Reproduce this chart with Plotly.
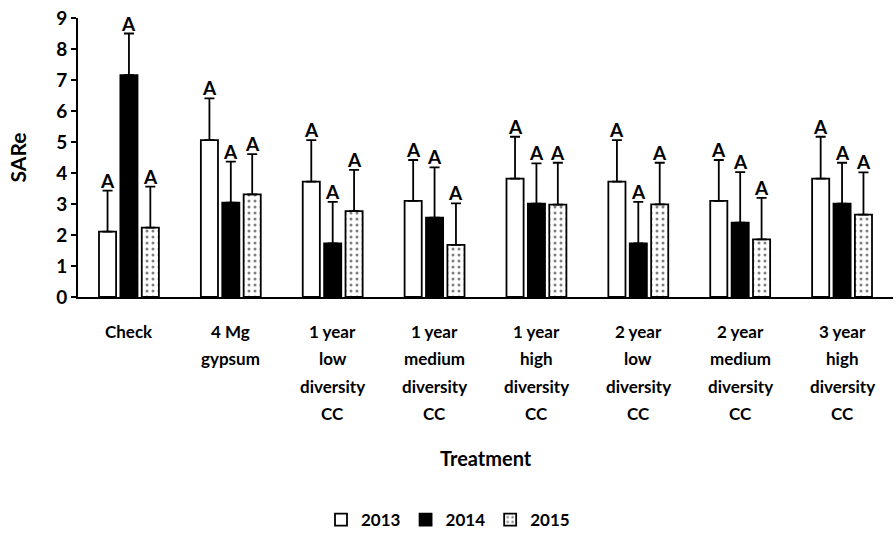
import plotly.graph_objects as go

# Treatment categories (multi-line labels)
categories = ["Check", "4 Mg<br>gypsum", "1 year<br>low<br>diversity<br>CC",
              "1 year<br>medium<br>diversity<br>CC", "1 year<br>high<br>diversity<br>CC",
              "2 year<br>low<br>diversity<br>CC", "2 year<br>medium<br>diversity<br>CC",
              "3 year<br>high<br>diversity<br>CC"]
cat_keys = ["c%d" % i for i in range(len(categories))]

years = ["2013", "2014", "2015"]

# SARe means by year
sare_2013 = [2.11, 5.06, 3.72, 3.10, 3.82, 3.72, 3.10, 3.82]
sare_2014 = [7.16, 3.04, 1.73, 2.56, 3.01, 1.73, 2.40, 3.01]
sare_2015 = [2.24, 3.31, 2.77, 1.68, 2.98, 2.99, 1.86, 2.66]

# Upper error (standard error) by year
err_2013 = [1.32, 1.35, 1.34, 1.32, 1.35, 1.34, 1.32, 1.35]
err_2014 = [1.34, 1.33, 1.34, 1.62, 1.30, 1.34, 1.63, 1.32]
err_2015 = [1.32, 1.30, 1.33, 1.34, 1.35, 1.34, 1.34, 1.36]

# Mean separation letters
letters_2013 = ["A"] * 8
letters_2014 = ["A"] * 8
letters_2015 = ["A"] * 8

FONT = "Lato"
series = [
    (years[0], sare_2013, err_2013, letters_2013, dict(color="white", line=dict(color="black", width=1.8))),
    (years[1], sare_2014, err_2014, letters_2014, dict(color="black", line=dict(color="black", width=1.8))),
    (years[2], sare_2015, err_2015, letters_2015,
     dict(color="white", line=dict(color="black", width=1.8),
          pattern=dict(shape=".", fgcolor="black", bgcolor="white", size=6, solidity=0.2))),
]

fig = go.Figure()
for name, vals, errs, _, marker in series:
    fig.add_trace(go.Bar(
        name=name, x=cat_keys, y=vals, marker=marker,
        error_y=dict(type="data", array=errs, arrayminus=[0] * len(errs), symmetric=False,
                     color="black", thickness=1.8, width=5),
    ))

# Letters above the error bars, offset to each bar slot in the group
n = len(series)
slot = (1 - 0.37) / n
for k, (name, vals, errs, letters, _) in enumerate(series):
    for i, (v, e, t) in enumerate(zip(vals, errs, letters)):
        fig.add_annotation(x=i + (k - (n - 1) / 2) * slot, y=v + e, xref="x", yref="y",
                           text="<b>%s</b>" % t, showarrow=False, yanchor="bottom", yshift=-3,
                           font=dict(family=FONT, size=19, color="black"))

# Category labels, one line at a time for the wider line spacing
for i, lab in enumerate(categories):
    for j, line in enumerate(lab.split("<br>")):
        fig.add_annotation(x=i, y=0, xref="x", yref="y", text="<b>%s</b>" % line,
                           showarrow=False, yanchor="middle", yshift=-34 - j * 27.6,
                           font=dict(family=FONT, size=17, color="black"))

fig.add_annotation(x=0.5, y=-(458 - 297) / 279, xref="paper", yref="paper", text="<b>Treatment</b>",
                   showarrow=False, yanchor="middle", font=dict(family=FONT, size=20, color="black"))

fig.update_layout(
    width=896, height=538,
    margin=dict(l=78, r=3, t=18, b=241),
    paper_bgcolor="white", plot_bgcolor="white",
    barmode="group", bargap=0.37, bargroupgap=0.2,
    font=dict(family=FONT, size=17, color="black"),
    showlegend=True,
    legend=dict(orientation="h", x=0.5, xanchor="center", xref="container",
                y=18 / 538, yanchor="middle", yref="container",
                font=dict(family=FONT, size=17, color="black"),
                itemwidth=30, traceorder="normal"),
    xaxis=dict(showticklabels=False, showline=True, linecolor="black", linewidth=2,
               ticks="", showgrid=False, range=[-0.5, 7.5]),
    yaxis=dict(range=[0, 9], dtick=1, showline=True, linecolor="black", linewidth=2,
               ticks="outside", ticklen=5, tickwidth=1.5, tickcolor="black",
               showgrid=False, zeroline=False,
               tickfont=dict(family=FONT, size=19, color="black"),
               tickprefix="<b>", ticksuffix="</b>",
               title=dict(text="<b>SARe</b>", font=dict(family=FONT, size=21, color="black"), standoff=24)),
)
fig.for_each_trace(lambda t: t.update(name="<b>%s</b>" % t.name))

fig.write_html("out.html")
